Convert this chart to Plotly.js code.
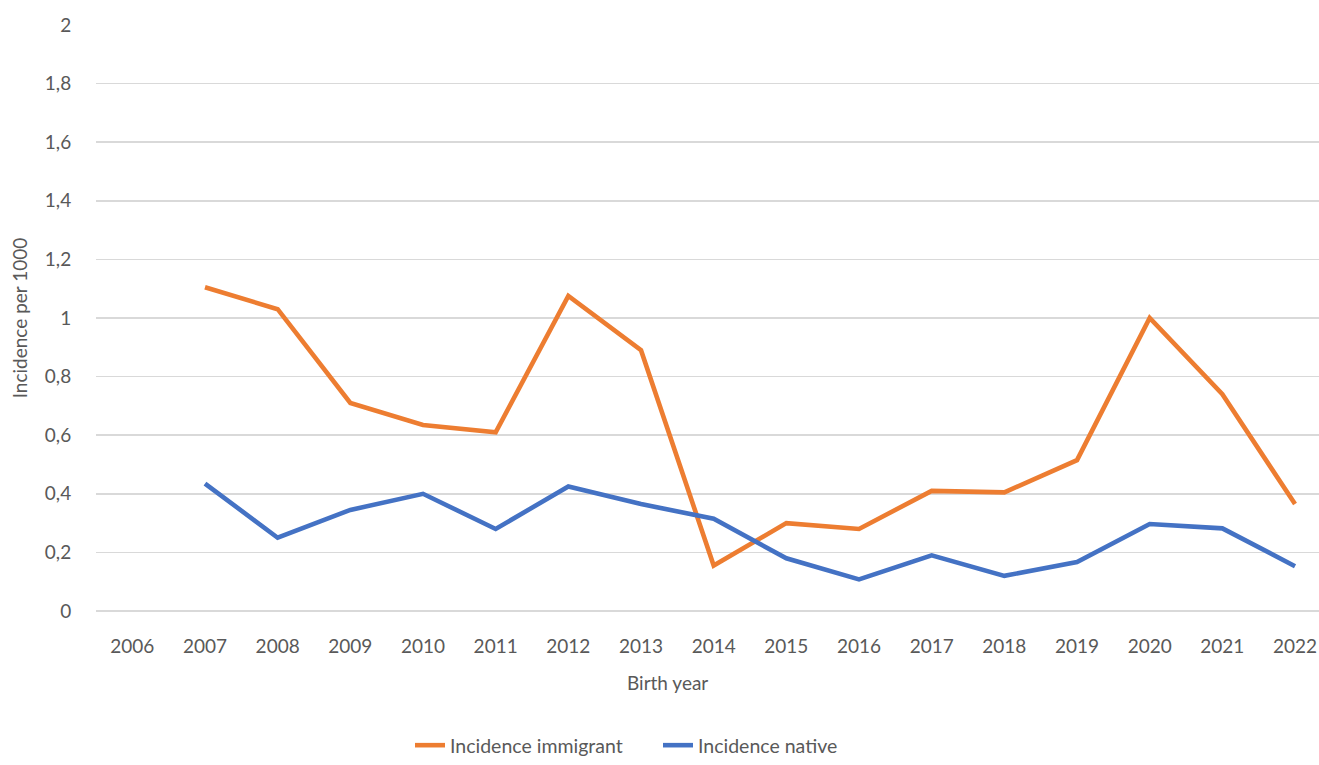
<!DOCTYPE html>
<html>
<head>
<meta charset="utf-8">
<script src="https://cdn.plot.ly/plotly-3.0.1.min.js"></script>
<style>html,body{margin:0;padding:0;background:#fff;}#chart{width:1319px;height:765px;}</style>
</head>
<body>
<div id="chart"></div>
<script>
const years = ['2006','2007','2008','2009','2010','2011','2012','2013','2014','2015','2016','2017','2018','2019','2020','2021','2022'];
const immigrantYears = ['2007','2008','2009','2010','2011','2012','2013','2014','2015','2016','2017','2018','2019','2020','2021','2022'];
const incidenceImmigrant = [1.105, 1.03, 0.71, 0.635, 0.61, 1.075, 0.89, 0.155, 0.30, 0.28, 0.41, 0.405, 0.515, 1.00, 0.74, 0.365];
const incidenceNative = [0.435, 0.25, 0.345, 0.40, 0.28, 0.425, 0.365, 0.315, 0.18, 0.108, 0.19, 0.12, 0.167, 0.297, 0.282, 0.153];
const yTicks = [0, 0.2, 0.4, 0.6, 0.8, 1, 1.2, 1.4, 1.6, 1.8, 2];

const font = 'Lato, "Open Sans", sans-serif';
const data = [
  {x: immigrantYears, y: incidenceImmigrant, type: 'scatter', mode: 'lines', name: 'Incidence immigrant',
   line: {color: '#ED7D31', width: 4.6}},
  {x: immigrantYears, y: incidenceNative, type: 'scatter', mode: 'lines', name: 'Incidence native',
   line: {color: '#4472C4', width: 4.6}}
];
const layout = {
  width: 1319, height: 765,
  margin: {l: 96, r: 0, t: 25, b: 149, pad: 0},
  paper_bgcolor: '#fff', plot_bgcolor: '#fff',
  separators: ',.',
  font: {family: font, color: '#595959', size: 19},
  showlegend: true,
  legend: {orientation: 'h', x: (410 - 96) / 1223, xanchor: 'left', y: -(752 - 616) / 591, yanchor: 'middle',
           font: {family: font, size: 19.5, color: '#595959'}, itemwidth: 30, entrywidth: 203, tracegroupgap: 0},
  xaxis: {type: 'category', categoryorder: 'array', categoryarray: years, range: [-0.5, 16.33],
          showgrid: false, zeroline: false, showline: false,
          ticks: 'outside', ticklen: 18, tickcolor: 'rgba(0,0,0,0)',
          tickfont: {family: font, size: 19, color: '#595959'}},
  yaxis: {range: [0, 2], tickvals: yTicks, showgrid: true, gridcolor: '#d9d9d9', gridwidth: 1.5,
          zeroline: true, zerolinecolor: '#d9d9d9', zerolinewidth: 1.5, showline: false,
          ticks: 'outside', ticklen: 20, tickcolor: 'rgba(0,0,0,0)',
          tickfont: {family: font, size: 19, color: '#595959'},
          title: {text: 'Incidence per 1000', standoff: 12, font: {family: font, size: 19, color: '#595959'}}},
  annotations: [
    {text: 'Birth year', xref: 'paper', yref: 'paper', x: (667 - 96) / 1223, y: -(688 - 616) / 591,
     xanchor: 'center', yanchor: 'middle', showarrow: false, font: {family: font, size: 19, color: '#595959'}}
  ]
};
Plotly.newPlot('chart', data, layout, {displayModeBar: false, staticPlot: true});
</script>
</body>
</html>
